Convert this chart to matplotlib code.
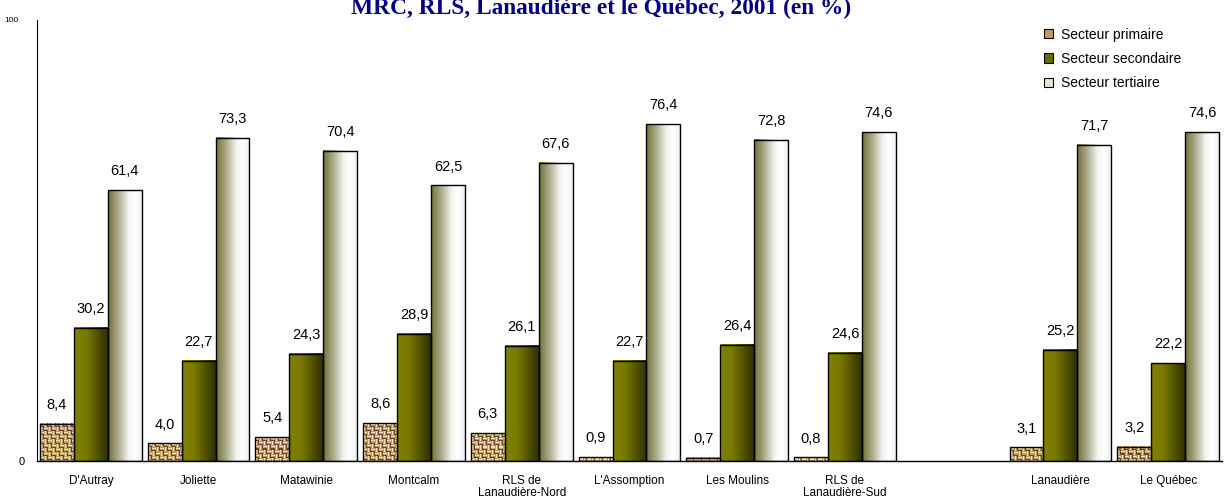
import numpy as np
import matplotlib
matplotlib.use("Agg")
import matplotlib.pyplot as plt
import matplotlib.transforms as mtransforms
from matplotlib.colors import LinearSegmentedColormap, to_rgb
from matplotlib.patches import Rectangle, Patch

plt.rcParams['font.family'] = ['Liberation Sans', 'DejaVu Sans']

categories = ["D'Autray", "Joliette", "Matawinie", "Montcalm", "RLS de\nLanaudière-Nord",
              "L'Assomption", "Les Moulins", "RLS de\nLanaudière-Sud", "Lanaudière", "Le Québec"]
slots = [0, 1, 2, 3, 4, 5, 6, 7, 9, 10]
primaire = [8.4, 4.0, 5.4, 8.6, 6.3, 0.9, 0.7, 0.8, 3.1, 3.2]
secondaire = [30.2, 22.7, 24.3, 28.9, 26.1, 22.7, 26.4, 24.6, 25.2, 22.2]
tertiaire = [61.4, 73.3, 70.4, 62.5, 67.6, 76.4, 72.8, 74.6, 71.7, 74.6]
series_names = ["Secteur primaire", "Secteur secondaire", "Secteur tertiaire"]

cmap_sec = LinearSegmentedColormap.from_list(
    "sec", [(0, "#808000"), (0.35, "#7a7a00"), (1, "#303000")])
cmap_ter = LinearSegmentedColormap.from_list(
    "ter", [(0, "#727238"), (0.3, "#acac8c"), (0.6, "#f2f2ee"), (0.8, "#ffffff"), (1, "#eeeeee")])


def burlap(ny, nx):
    # basket-weave texture for the "primaire" bars
    r = np.arange(ny)[:, None]
    c = np.arange(nx)[None, :]
    base = np.array(to_rgb("#bf9c64"))
    light = np.array(to_rgb("#f0e0b4"))
    dark = np.array(to_rgb("#65492a"))
    img = np.empty((ny, nx, 3))
    img[:] = base
    block = ((r // 4) + (c // 4)) % 2
    horiz = (block == 0) & (r % 4 == 1)
    vert = (block == 1) & (c % 4 == 1)
    img[np.broadcast_to(horiz | vert, (ny, nx))] = light
    seam = ((r % 4 == 3) & (block == 0)) | ((c % 4 == 3) & (block == 1))
    img[np.broadcast_to(seam, (ny, nx))] = dark
    return img


fig = plt.figure(figsize=(12.24, 4.99), dpi=100)
ax = fig.add_axes([37 / 1224, 1 - 461 / 499, (1222 - 37) / 1224, (461 - 20) / 499])

w = 0.315
px_per_unit = 441 / 100
grad = np.linspace(0, 1, 64)[None, :]


def label(x, h):
    ax.annotate(f"{h:.1f}".replace('.', ','), (x, h), xytext=(0, 8.5),
                textcoords='offset points', ha='center', va='bottom', fontsize=10.5)


for i, x in enumerate(slots):
    # primaire
    x0 = x - 1.5 * w
    h = primaire[i]
    ny = max(int(h * px_per_unit), 1)
    ax.imshow(burlap(ny, 34), extent=[x0, x0 + w, 0, h], aspect='auto',
              interpolation='nearest', zorder=2)
    ax.add_patch(Rectangle((x0, 0), w, h, fill=False, ec='black', lw=1, zorder=3))
    label(x0 + w / 2, h)
    # secondaire
    x0 = x - 0.5 * w
    h = secondaire[i]
    ax.imshow(grad, cmap=cmap_sec, extent=[x0, x0 + w, 0, h], aspect='auto', zorder=2)
    ax.add_patch(Rectangle((x0, 0), w, h, fill=False, ec='black', lw=1, zorder=3))
    label(x0 + w / 2, h)
    # tertiaire
    x0 = x + 0.5 * w
    h = tertiaire[i]
    ax.imshow(grad, cmap=cmap_ter, extent=[x0, x0 + w, 0, h], aspect='auto', zorder=2)
    ax.add_patch(Rectangle((x0, 0), w, h, fill=False, ec='black', lw=1, zorder=3))
    label(x0 + w / 2, h)

ax.set_xlim(-0.5, 10.5)
ax.set_ylim(0, 100)
ax.set_xticks(slots)
ax.set_xticklabels(categories, fontsize=8.5, linespacing=1.0)
ax.tick_params(axis='x', length=0, pad=10)
ax.set_yticks([0, 100])
ax.set_yticklabels(["0", "100"])
ax.tick_params(axis='y', length=0, pad=9)
ylabs = ax.get_yticklabels()
ylabs[0].set_fontsize(8)
ylabs[1].set_fontsize(6)
ylabs[1].set_transform(ylabs[1].get_transform() +
                       mtransforms.ScaledTranslation(-6 / 100, 0, fig.dpi_scale_trans))
for s in ['top', 'right']:
    ax.spines[s].set_visible(False)
ax.spines['left'].set_linewidth(0.8)
ax.spines['bottom'].set_linewidth(1)

handles = [Patch(fc="#bf9c64", ec="black", lw=0.8),
           Patch(fc="#6b6b00", ec="black", lw=0.8),
           Patch(fc="#e4e4d4", ec="black", lw=0.8)]
fig.legend(handles, series_names, loc='upper left', bbox_to_anchor=(1031 / 1224, 1 - 15 / 499),
           frameon=False, fontsize=10, handlelength=0.65, handleheight=0.65,
           labelspacing=0.75, handletextpad=0.6)

fig.text(601 / 1224, 1 - 14 / 499, "MRC, RLS, Lanaudière et le Québec, 2001 (en %)",
         ha='center', va='baseline', fontsize=16.8, fontweight='bold',
         color='#000080', family=['Liberation Serif', 'DejaVu Serif'])

fig.savefig("out.png", dpi=100)
